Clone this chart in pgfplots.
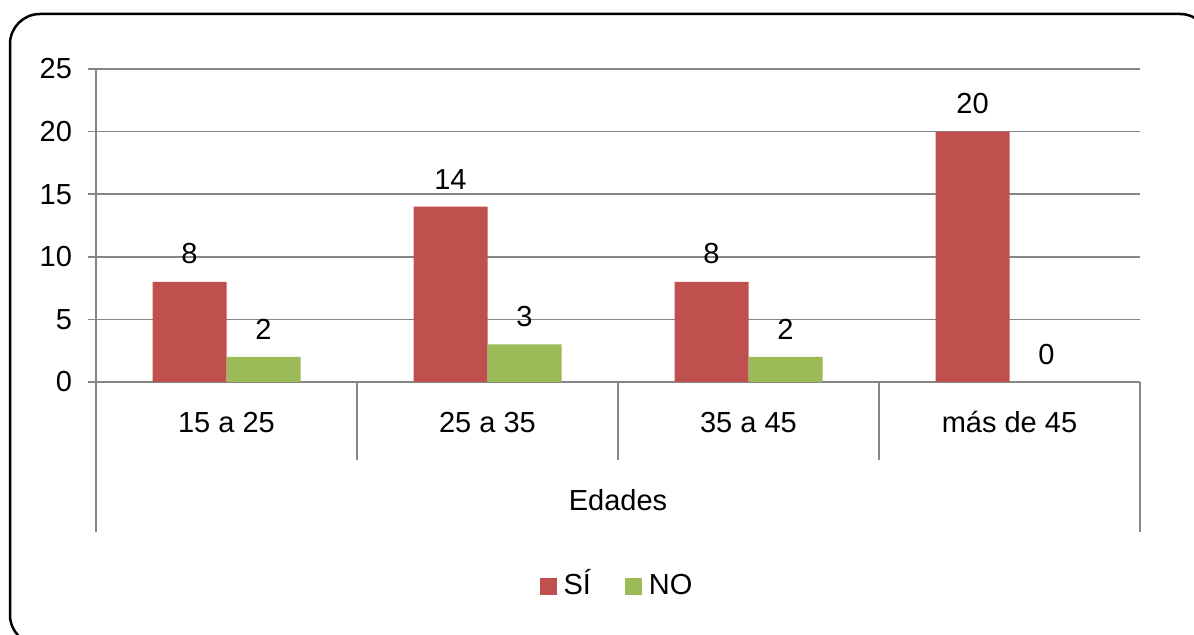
\documentclass[border=0pt]{standalone}
\usepackage{pgfplots}
\pgfplotsset{compat=1.18}
\usepackage{fontspec}
\setmainfont{Liberation Sans}
\definecolor{barred}{HTML}{C0504D}
\definecolor{bargreen}{HTML}{9BBB59}
\definecolor{gridgray}{HTML}{868686}
\newcommand{\chartfont}{\fontsize{14.5}{17}\selectfont}
\begin{document}
\begin{tikzpicture}
\useasboundingbox (0,0) rectangle (597pt,-317.5pt);
\draw[line width=1.25pt, rounded corners=15pt] (5pt,-7pt) rectangle (605pt,-322.5pt);
\begin{axis}[
  at={(48pt,-191pt)}, anchor=south west,
  scale only axis, width=522pt, height=156.5pt,
  ybar=0pt, bar width=37pt,
  xmin=-0.5, xmax=3.5, ymin=0, ymax=25,
  enlarge x limits=false,
  axis x line=bottom, axis y line=left,
  axis line style={draw=gridgray, line width=0.75pt, -},
  ytick={0,5,10,15,20,25},
  ymajorgrids, grid style={draw=gridgray, line width=0.75pt},
  tick align=outside, major tick length=4pt,
  ytick style={draw=gridgray, line width=0.75pt},
  xtick={0,1,2,3},
  xticklabels={15 a 25, 25 a 35, 35 a 45, más de 45},
  xtick style={draw=none},
  xticklabel style={font=\chartfont, anchor=base, yshift=-21.5pt},
  yticklabel style={font=\chartfont, xshift=-4.5pt},
  /pgf/number format/assume math mode=true,
  xlabel={Edades},
  xlabel style={font=\chartfont, at={(axis description cs:0.5,0)}, anchor=center, yshift=-59pt},
  nodes near coords,
  nodes near coords style={font=\chartfont, yshift=5.3pt},
  clip=false,
  legend style={at={(0.5,-0.652)}, anchor=center, draw=none, font=\chartfont,
    legend columns=2, /tikz/every even column/.append style={column sep=15pt}},
  legend image code/.code={\fill[#1] (0pt,-4.25pt) rectangle (8.5pt,4.25pt);},
]
\addplot[fill=barred, draw=none] coordinates {(0,8) (1,14) (2,8) (3,20)};
\addplot[fill=bargreen, draw=none] coordinates {(0,2) (1,3) (2,2) (3,0)};
\legend{\hspace{1.5pt}\smash{SÍ}\vphantom{NO}, \hspace{1.5pt}NO}
\draw[gridgray, line width=0.75pt] (axis cs:-0.5,0) -- ([yshift=-75pt]axis cs:-0.5,0);
\draw[gridgray, line width=0.75pt] (axis cs:3.5,0) -- ([yshift=-75pt]axis cs:3.5,0);
\draw[gridgray, line width=0.75pt] (axis cs:0.5,0) -- ([yshift=-39pt]axis cs:0.5,0);
\draw[gridgray, line width=0.75pt] (axis cs:1.5,0) -- ([yshift=-39pt]axis cs:1.5,0);
\draw[gridgray, line width=0.75pt] (axis cs:2.5,0) -- ([yshift=-39pt]axis cs:2.5,0);
\end{axis}
\end{tikzpicture}
\end{document}
